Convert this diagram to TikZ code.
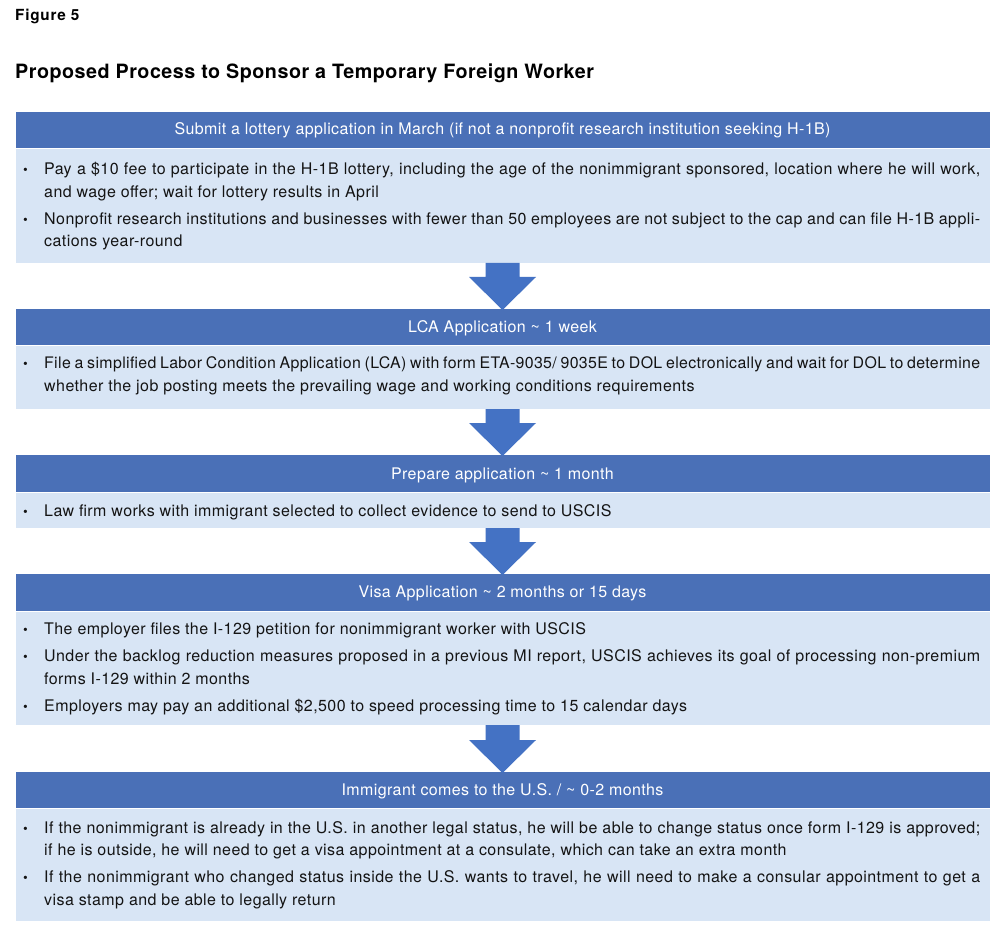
\documentclass[tikz,border=0pt]{standalone}
\usepackage{fontspec}
\setmainfont{TeX Gyre Heros}
\newfontfamily\bodyfont[LetterSpace=2.7]{TeX Gyre Heros}
\newfontfamily\tightfont[LetterSpace=2.2]{TeX Gyre Heros}
\newfontfamily\hdrfont[LetterSpace=2.4]{TeX Gyre Heros}
\newfontfamily\ttlfont[LetterSpace=2.6]{TeX Gyre Heros}
\newfontfamily\figfont[LetterSpace=5]{TeX Gyre Heros}
\usetikzlibrary{calc}
\definecolor{hdrblue}{RGB}{74,112,183}
\definecolor{arrblue}{RGB}{68,114,196}
\definecolor{bodyblue}{RGB}{216,229,245}
\definecolor{txtcol}{RGB}{20,20,20}
\newcommand{\jline}[1]{\makebox[936pt][s]{#1}}
\newcommand{\blockarrow}[2]{%
  \fill[arrblue] ($(#1.south)+(-17,0)$) -- ($(#1.south)+(17,0)$) -- ($(#2.north)+(17,-31)$) -- ($(#2.north)+(33.5,-31)$) -- ($(#2.north)+(0,2)$) -- ($(#2.north)+(-33.5,-31)$) -- ($(#2.north)+(-17,-31)$) -- cycle;}
\tikzset{
  hdr/.style={fill=hdrblue, draw=white, line width=0.6pt, minimum width=975pt, inner sep=0pt, outer sep=0pt, anchor=north},
  bdy/.style={fill=bodyblue, draw=white, line width=0.6pt, minimum width=975pt, inner sep=0pt, outer sep=0pt, anchor=north},
  htxt/.style={text=white, font=\hdrfont\fontsize{16}{18}\selectfont, anchor=base, inner sep=0pt},
  btxt/.style={text=txtcol, font=\bodyfont\fontsize{16}{18}\selectfont, anchor=base west, inner sep=0pt},
  bul/.style={text=txtcol, font=\bodyfont\fontsize{13.5}{18}\selectfont, anchor=base, inner sep=0pt},
}
\begin{document}
\frenchspacing
\begin{tikzpicture}[x=1pt,y=-1pt]
\useasboundingbox (0,0) rectangle (995,949);
\fill[white] (0,0) rectangle (995,949);

% titles
\node[anchor=base west, inner sep=0pt, font=\figfont\bfseries\fontsize{15.3}{17}\selectfont] (fig) at (15,20.7) {Figure 5};
\node[anchor=base west, inner sep=0pt, font=\ttlfont\bfseries\fontsize{19.7}{23}\selectfont] (title) at (15,79) {Proposed Process to Sponsor a Temporary Foreign Worker};

% boxes
\node[hdr, minimum height=37pt] (h1) at (502.5,111) {};
\node[bdy, minimum height=115pt] (b1) at (502.5,148) {};
\node[hdr, minimum height=37pt] (h2) at (502.5,308) {};
\node[bdy, minimum height=64pt] (b2) at (502.5,345) {};
\node[hdr, minimum height=38pt] (h3) at (502.5,454) {};
\node[bdy, minimum height=36pt] (b3) at (502.5,492) {};
\node[hdr, minimum height=38pt] (h4) at (502.5,573) {};
\node[bdy, minimum height=114pt] (b4) at (502.5,611) {};
\node[hdr, minimum height=37pt] (h5) at (502.5,771) {};
\node[bdy, minimum height=113pt] (b5) at (502.5,808) {};

% header texts
\node[htxt] (t1) at ($(h1.north)+(0,24)$) {Submit a lottery application in March (if not a nonprofit research institution seeking H-1B)};
\node[htxt] (t2) at ($(h2.north)+(0,24)$) {LCA Application \textasciitilde{} 1 week};
\node[htxt] (t3) at ($(h3.north)+(0,25)$) {Prepare application \textasciitilde{} 1 month};
\node[htxt] (t4) at ($(h4.north)+(0,24)$) {Visa Application \textasciitilde{} 2 months or 15 days};
\node[htxt] (t5) at ($(h5.north)+(0,24)$) {Immigrant comes to the U.S. / \textasciitilde{} 0-2 months};

% arrows
\blockarrow{b1}{h2}
\blockarrow{b2}{h3}
\blockarrow{b3}{h4}
\blockarrow{b4}{h5}

% box 1 body
\node[bul] (u11) at (25.5,175) {\textbullet};
\node[btxt] (l11) at (44,175) {\jline{Pay a \$10 fee to participate in the H-1B lottery, including the age of the nonimmigrant sponsored, location where he will work,}};
\node[btxt] (l12) at (44,198) {and wage offer; wait for lottery results in April};
\node[bul] (u12) at (25.5,225) {\textbullet};
\node[btxt] (l13) at (44,225) {\jline{Nonprofit research institutions and businesses with fewer than 50 employees are not subject to the cap and can file H-1B appli-}};
\node[btxt] (l14) at (44,247) {cations year-round};

% box 2 body
\node[bul] (u21) at (25.5,368) {\textbullet};
\node[btxt, font=\tightfont\fontsize{15.9}{18}\selectfont] (l21) at (44,368) {\jline{File a simplified Labor Condition Application (LCA) with form ETA-9035/ 9035E to DOL electronically and wait for DOL to determine}};
\node[btxt] (l22) at (44,391.5) {whether the job posting meets the prevailing wage and working conditions requirements};

% box 3 body
\node[bul] (u31) at (25.5,516) {\textbullet};
\node[btxt] (l31) at (44,516) {Law firm works with immigrant selected to collect evidence to send to USCIS};

% box 4 body
\node[bul] (u41) at (25.5,634) {\textbullet};
\node[btxt] (l41) at (44,634) {The employer files the I-129 petition for nonimmigrant worker with USCIS};
\node[bul] (u42) at (25.5,661.5) {\textbullet};
\node[btxt] (l42) at (44,661.5) {\jline{Under the backlog reduction measures proposed in a previous MI report, USCIS achieves its goal of processing non-premium}};
\node[btxt] (l43) at (44,684) {forms I-129 within 2 months};
\node[bul] (u43) at (25.5,711.5) {\textbullet};
\node[btxt] (l44) at (44,711.5) {Employers may pay an additional \$2,500 to speed processing time to 15 calendar days};

% box 5 body
\node[bul] (u51) at (25.5,833) {\textbullet};
\node[btxt] (l51) at (44,833) {\jline{If the nonimmigrant is already in the U.S. in another legal status, he will be able to change status once form I-129 is approved;}};
\node[btxt] (l52) at (44,855.5) {if he is outside, he will need to get a visa appointment at a consulate, which can take an extra month};
\node[bul] (u52) at (25.5,882.5) {\textbullet};
\node[btxt] (l53) at (44,882.5) {\jline{If the nonimmigrant who changed status inside the U.S. wants to travel, he will need to make a consular appointment to get a}};
\node[btxt] (l54) at (44,905.5) {visa stamp and be able to legally return};
\end{tikzpicture}
\end{document}
